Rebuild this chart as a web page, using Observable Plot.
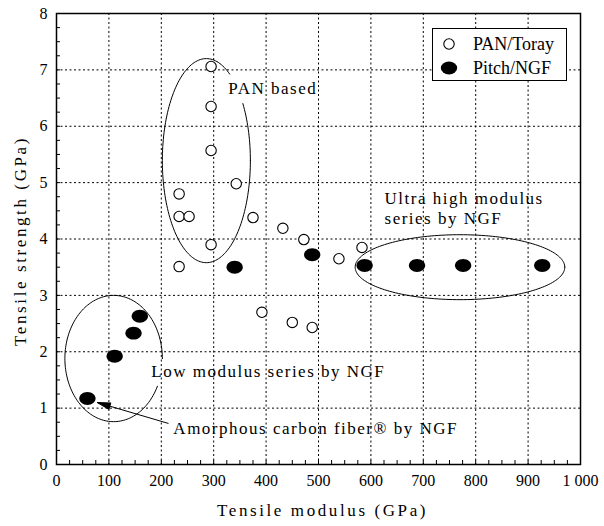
<!DOCTYPE html>
<html><head><meta charset="utf-8">
<script src="https://cdn.jsdelivr.net/npm/d3@7"></script>
<script src="https://cdn.jsdelivr.net/npm/@observablehq/plot@0.6"></script>
<style>
body{margin:0;background:#fff}
#wrap{position:relative;width:604px;height:526px}
#legend{position:absolute;left:432px;top:28px;width:133px;height:51px;border:1.5px solid #000;background:#fff;font-family:"Liberation Serif",serif;font-size:18px;color:#000}
.row{position:absolute;left:0;height:24px;display:flex;align-items:center}
.row svg{position:absolute;left:6px}
.row span{position:absolute;left:40px;white-space:nowrap;line-height:24px}
g[font-family="Liberation Serif, Times, serif"] text{letter-spacing:1.5px}
g[font-family="Liberation Serif, Times New Roman, serif"] text{letter-spacing:2.6px}
</style></head>
<body><div id="wrap"></div>
<script>
// ---- data ----
const seriesNames = ["PAN/Toray", "Pitch/NGF"];
const panModulus  = [295, 295, 295, 343, 234, 234, 253, 375, 432, 295, 234, 472, 539, 583, 392, 450, 488];
const panStrength = [7.06, 6.35, 5.57, 4.98, 4.80, 4.40, 4.40, 4.38, 4.19, 3.90, 3.51, 3.99, 3.65, 3.85, 2.70, 2.52, 2.43];
const pitchModulus  = [59, 111, 147, 159, 340, 488, 588, 688, 776, 927];
const pitchStrength = [1.17, 1.92, 2.33, 2.63, 3.50, 3.72, 3.53, 3.53, 3.53, 3.53];
const xTicks = [0, 100, 200, 300, 400, 500, 600, 700, 800, 900, 1000];
const yTicks = [0, 1, 2, 3, 4, 5, 6, 7, 8];
const xMinor = d3.range(0, 1001, 25);
const yMinor = d3.range(0, 8.01, 0.25);
// annotation groups (center, radii in data units, gap in degrees)
const groupNames = ["PAN based", "Ultra high modulus series", "Low modulus series"];
const groupCenterX = [286, 770, 109];
const groupCenterY = [5.39, 3.50, 1.88];
const groupRadiusX = [84, 200, 93];
const groupRadiusY = [1.81, 0.576, 1.12];
const groupGapFrom = [34, null, -25];
const groupGapTo   = [58, null, 0];
const labelTexts = ["PAN based", "Ultra high modulus", "series by NGF", "Low modulus series by NGF", "Amorphous carbon fiber\u00AE by NGF"];
const labelX = [328, 626, 626, 181, 223];
const labelY = [6.67, 4.72, 4.36, 1.65, 0.64];
const arrowFrom = {x: 213, y: 0.73};
const arrowTo = {x: 78, y: 1.10};

// ---- derived tables ----
const pan = panModulus.map((x, i) => ({x, y: panStrength[i]}));
const pitch = pitchModulus.map((x, i) => ({x, y: pitchStrength[i]}));
const labels = labelTexts.map((t, i) => ({t, x: labelX[i], y: labelY[i]}));
const outline = [];
groupNames.forEach((g, i) => {
  for (let a = 0; a <= 360; a += 2) {
    let ang = a > 180 ? a - 360 : a;
    const inGap = groupGapFrom[i] != null && ang > groupGapFrom[i] && ang < groupGapTo[i];
    const r = a * Math.PI / 180;
    outline.push({g, x: inGap ? NaN : groupCenterX[i] + groupRadiusX[i] * Math.cos(r), y: inGap ? NaN : groupCenterY[i] + groupRadiusY[i] * Math.sin(r)});
  }
});

const ellipseSymbol = {draw(ctx, size) {
  const r = Math.sqrt(size / Math.PI), a = r * 1.2, b = r * 0.95, k = 0.5523;
  ctx.moveTo(a, 0);
  ctx.bezierCurveTo(a, b * k, a * k, b, 0, b);
  ctx.bezierCurveTo(-a * k, b, -a, b * k, -a, 0);
  ctx.bezierCurveTo(-a, -b * k, -a * k, -b, 0, -b);
  ctx.bezierCurveTo(a * k, -b, a, -b * k, a, 0);
  ctx.closePath();
}};

function filledArrow(color) {
  const ns = "http://www.w3.org/2000/svg";
  const m = document.createElementNS(ns, "marker");
  m.setAttribute("viewBox", "-14 -5 16 10");
  m.setAttribute("markerWidth", "16");
  m.setAttribute("markerHeight", "10");
  m.setAttribute("markerUnits", "userSpaceOnUse");
  m.setAttribute("orient", "auto");
  const p = document.createElementNS(ns, "path");
  p.setAttribute("d", "M0,0L-13,-3.2L-13,3.2Z");
  p.setAttribute("fill", color === "currentColor" ? "black" : color);
  m.appendChild(p);
  return m;
}

const labelFont = "Liberation Serif, Times, serif";
const titleFont = "Liberation Serif, Times New Roman, serif";
const chart = Plot.plot({
  width: 604, height: 526,
  marginLeft: 56, marginRight: 24, marginTop: 13, marginBottom: 62,
  x: {domain: [0, 1000]},
  y: {domain: [0, 8]},
  style: {fontFamily: "Liberation Serif, serif", fontSize: "16px", color: "black", background: "white"},
  marks: [
    Plot.gridX(xTicks, {stroke: "black", strokeOpacity: 1, strokeDasharray: "2,2.5", strokeWidth: 1}),
    Plot.gridY(yTicks, {stroke: "black", strokeOpacity: 1, strokeDasharray: "2,2.5", strokeWidth: 1}),
    Plot.axisX({ticks: xTicks, tickSize: 0, tickPadding: 10, label: null, fontSize: 16, tickFormat: d => d === 1000 ? "1 000" : String(d)}),
    Plot.axisY({ticks: yTicks, tickSize: 0, tickPadding: 9, label: null, fontSize: 16}),
    Plot.axisX({ticks: xMinor, tickSize: -4, label: null, tickFormat: () => ""}),
    Plot.axisY({ticks: yMinor, tickSize: -4, label: null, tickFormat: () => ""}),
    Plot.frame({stroke: "black", strokeWidth: 1.5}),
    Plot.line(outline, {x: "x", y: "y", z: "g", stroke: "black", strokeWidth: 1, curve: "linear"}),
    Plot.line([arrowFrom, arrowTo], {x: "x", y: "y", stroke: "black", strokeWidth: 1, markerEnd: filledArrow}),
    Plot.text(labels, {x: "x", y: "y", text: "t", textAnchor: "start", lineAnchor: "middle", fontFamily: labelFont, fontSize: 17, fill: "black"}),
    Plot.dot(pan, {x: "x", y: "y", r: 5.2, stroke: "black", strokeWidth: 1.1, fill: "white"}),
    Plot.dot(pitch, {x: "x", y: "y", r: 6.8, symbol: ellipseSymbol, fill: "black", stroke: "none"}),
    Plot.text(["Tensile modulus (GPa)"], {frameAnchor: "bottom", textAnchor: "middle", lineAnchor: "middle", dx: 4, dy: 46, fontFamily: titleFont, fontSize: 17, fill: "black"}),
    Plot.text(["Tensile strength (GPa)"], {frameAnchor: "left", textAnchor: "middle", lineAnchor: "middle", rotate: -90, dx: -36, dy: 2, fontFamily: titleFont, fontSize: 17, fill: "black"})
  ]
});
const wrap = document.getElementById("wrap");
wrap.appendChild(chart);

// legend
const legend = document.createElement("div");
legend.id = "legend";
seriesNames.forEach((name, i) => {
  const row = document.createElement("div");
  row.className = "row";
  row.style.top = (3 + i * 24) + "px";
  row.style.width = "133px";
  const sym = i === 0
    ? '<svg width="20" height="24"><circle cx="10" cy="12" r="5.2" fill="white" stroke="black" stroke-width="1.1"/></svg>'
    : '<svg width="20" height="24"><ellipse cx="10" cy="12" rx="8.2" ry="6.5" fill="black"/></svg>';
  row.innerHTML = sym + '<span>' + name + '</span>';
  legend.appendChild(row);
});
wrap.appendChild(legend);
</script></body></html>
